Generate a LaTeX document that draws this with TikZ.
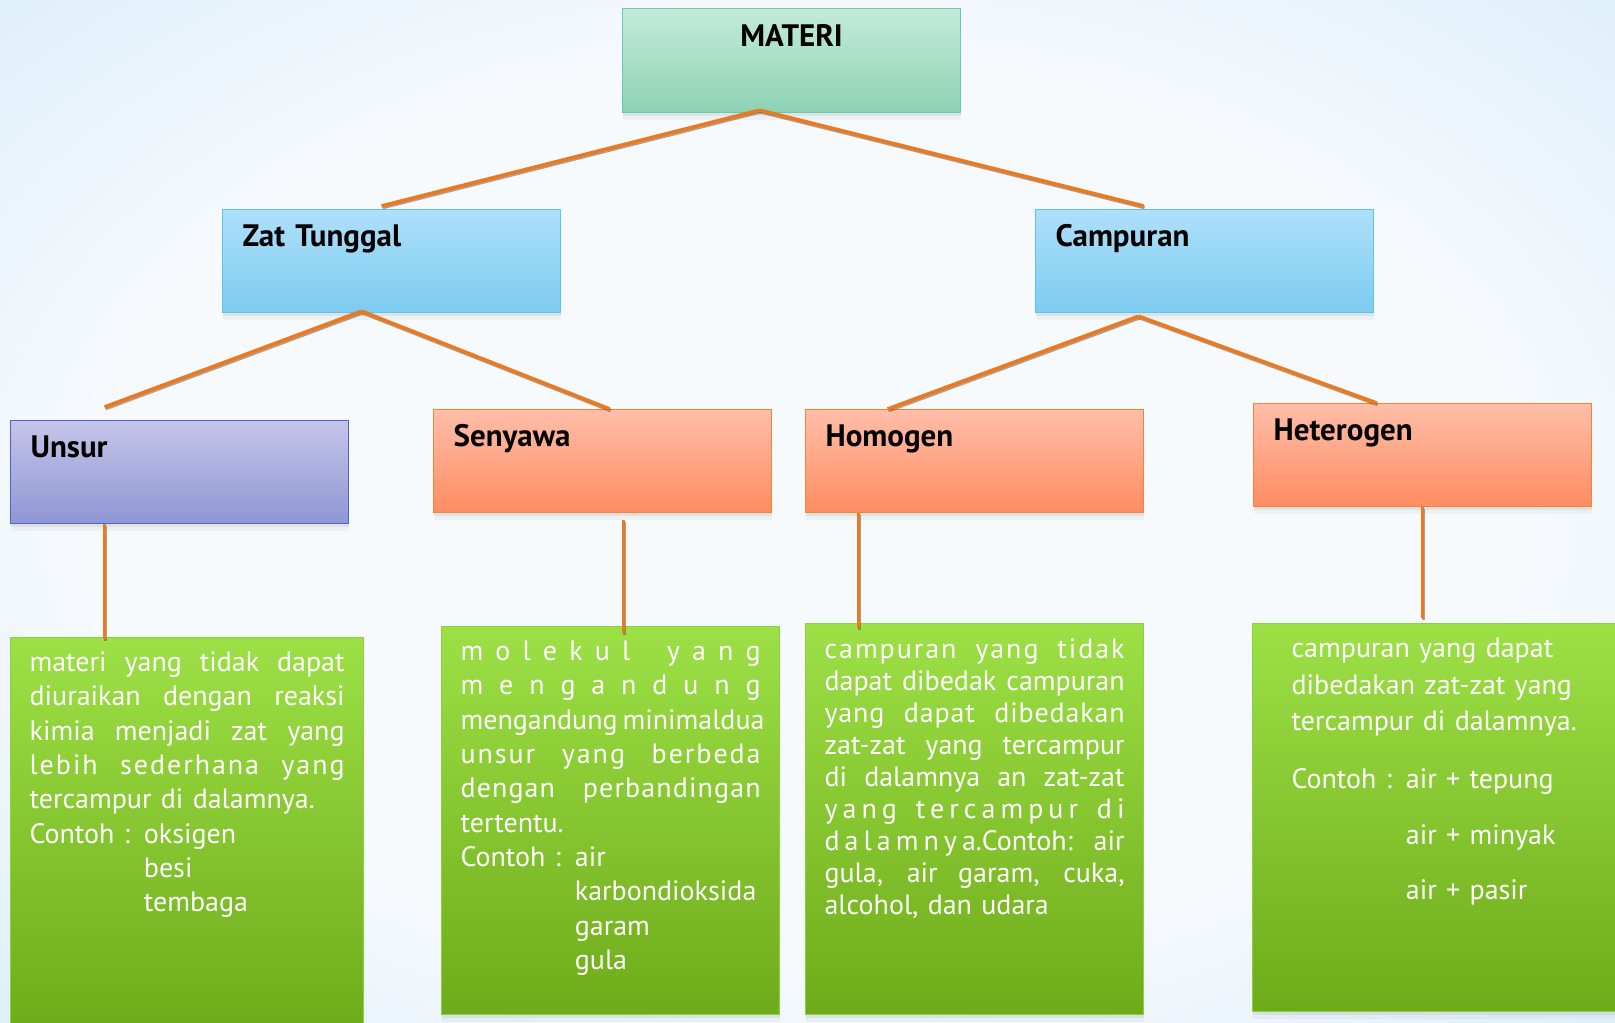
\documentclass[tikz,border=0pt]{standalone}
\usepackage{fontspec}
\setmainfont{PT Sans}
\usetikzlibrary{shadows}
\definecolor{bgmid}{HTML}{F7FAFD}
\definecolor{bgedge}{HTML}{D3EAF9}
\definecolor{bgcorner}{HTML}{B3D9F4}
\definecolor{mintT}{HTML}{C4EBDA}
\definecolor{mintB}{HTML}{8DD2B4}
\definecolor{mintD}{HTML}{66CCAD}
\definecolor{skyT}{HTML}{AEE0FA}
\definecolor{skyB}{HTML}{7DCBF1}
\definecolor{skyD}{HTML}{5CC5EF}
\definecolor{lilacT}{HTML}{C5C5E9}
\definecolor{lilacB}{HTML}{8E96D4}
\definecolor{lilacD}{HTML}{4F63CF}
\definecolor{peachT}{HTML}{FFBEA9}
\definecolor{peachB}{HTML}{FF8C62}
\definecolor{peachD}{HTML}{F5842E}
\definecolor{leafT}{HTML}{9DE046}
\definecolor{leafB}{HTML}{6EAB1A}
\definecolor{leafD}{HTML}{8BD33D}
\definecolor{linkor}{HTML}{EA7A22}
\definecolor{linkdk}{HTML}{7A3E12}
\pgfdeclareradialshading{skybg}{\pgfpoint{0bp}{0bp}}{color(0bp)=(bgmid); color(22bp)=(bgmid); color(42bp)=(bgedge); color(71bp)=(bgcorner)}
\newcommand\fillline[1]{\makebox[\hsize][s]{\spaceskip=0pt\xspaceskip=0pt #1}}
\newcommand\track[1]{{\addfontfeatures{LetterSpace=7}#1}}
\newcommand\ind{\phantom{Contoh : }}
\tikzset{
  soft/.style={drop shadow={shadow xshift=0pt,shadow yshift=-3pt,opacity=.12},
               drop shadow={shadow xshift=0pt,shadow yshift=-7pt,opacity=.07}},
  box/.style={rectangle,anchor=north west,inner xsep=20pt,inner ysep=17pt,text height=20pt,
              text width=298pt,text depth=49pt,align=left,line width=1.2pt,shading=axis,
              font=\fontsize{31}{36}\selectfont\bfseries,soft},
  rootbox/.style={box,top color=mintT,bottom color=mintB,draw=mintD,align=center,text height=21pt},
  groupbox/.style={box,top color=skyT,bottom color=skyB,draw=skyD},
  unsurbox/.style={box,top color=lilacT,bottom color=lilacB,draw=lilacD},
  kindbox/.style={box,top color=peachT,bottom color=peachB,draw=peachD},
  leafbox/.style={rectangle,anchor=north west,inner xsep=19pt,inner ysep=14pt,text height=20pt,
                  text width=300pt,align=left,line width=1.2pt,shading=axis,
                  top color=leafT,bottom color=leafB,draw=leafD,text=white,
                  font=\fontsize{28}{34.3}\selectfont,soft},
  link/.style={draw=linkor,line width=3.6pt,
               preaction={draw=linkdk,line width=3.6pt,opacity=.5,transform canvas={shift={(1pt,-1.5pt)}}}}
}
\begin{document}
\begin{tikzpicture}[x=1pt,y=-1pt]
\useasboundingbox (0,0) rectangle (1615,1023);
\shade[shading=skybg] (0,0) rectangle (1615,1023);
% kotak judul dan cabang
\node[rootbox] (materi) at (622,8) {MATERI};
\node[groupbox] (tunggal) at (222,209) {Zat Tunggal};
\node[groupbox] (campuran) at (1035,209) {Campuran};
\node[unsurbox] (unsur) at (10,420) {Unsur};
\node[kindbox] (senyawa) at (433,409) {Senyawa};
\node[kindbox] (homogen) at (805,409) {Homogen};
\node[kindbox] (heterogen) at (1253,403) {Heterogen};
% kotak keterangan
\node[leafbox,text width=315pt,text depth=345pt] (ketunsur) at (10,637) {%
\fillline{materi yang tidak dapat}\\
\fillline{diuraikan dengan reaksi}\\
\fillline{kimia menjadi zat yang}\\
\fillline{\track{lebih sederhana yang}}\\
tercampur di dalamnya.\\
Contoh : oksigen\\
\ind besi\\
\ind tembaga};
\node[leafbox,text depth=340pt] (ketsenyawa) at (441,626) {%
\fillline{m o l e k u l \ \ y a n g}\\
\fillline{m e n g a n d u n g}\\
\fillline{mengandung minimaldua}\\
\fillline{\track{unsur yang berbeda}}\\
\fillline{{\addfontfeatures{LetterSpace=4}dengan perbandingan}}\\
tertentu.\\
Contoh : air\\
\ind karbondioksida\\
\ind garam\\
\ind gula};
\node[leafbox,inner ysep=15pt,text depth=341pt,font=\fontsize{28}{32}\selectfont] (kethomogen) at (805,623) {%
\fillline{\track{campuran yang tidak}}\\
\fillline{dapat dibedak campuran}\\
\fillline{{\addfontfeatures{LetterSpace=3}yang dapat dibedakan}}\\
\fillline{zat-zat yang tercampur}\\
\fillline{di dalamnya an zat-zat}\\
\fillline{\addfontfeatures{LetterSpace=18}yang tercampur di}\\
\fillline{{\addfontfeatures{LetterSpace=18}dalamnya}.Contoh: air}\\
\fillline{gula, air garam, cuka,}\\
alcohol, dan udara};
\node[leafbox,inner xsep=39pt,text width=320pt,text depth=340pt,font=\fontsize{28}{36.6}\selectfont] (ketheterogen) at (1252,623) {%
campuran yang dapat\\
dibedakan zat-zat yang\\
tercampur di dalamnya.\\[21pt]
Contoh : air + tepung\\[19pt]
\ind air + minyak\\[19pt]
\ind air + pasir};
% garis penghubung
\draw[link] ([xshift=-32pt,yshift=3pt]materi.south) -- ([xshift=-10pt,yshift=3pt]tunggal.north);
\draw[link] ([xshift=-32pt,yshift=3pt]materi.south) -- ([xshift=-61pt,yshift=3pt]campuran.north);
\draw[link] ([xshift=-30pt,yshift=2pt]tunggal.south) -- ([xshift=-75pt,yshift=13pt]unsur.north);
\draw[link] ([xshift=-30pt,yshift=2pt]tunggal.south) -- ([xshift=7pt]senyawa.north);
\draw[link] ([xshift=-66pt,yshift=-3pt]campuran.south) -- ([xshift=-87pt]homogen.north);
\draw[link] ([xshift=-66pt,yshift=-3pt]campuran.south) -- ([xshift=-46pt]heterogen.north);
\draw[link] ([xshift=-75pt]unsur.south) -- ([xshift=-75pt,yshift=-2pt]unsur.south |- ketunsur.north);
\draw[link] ([xshift=21pt,yshift=-7pt]senyawa.south) -- ([xshift=21pt,yshift=-7pt]senyawa.south |- ketsenyawa.north);
\draw[link] ([xshift=-116pt]homogen.south) -- ([xshift=-116pt,yshift=-5pt]homogen.south |- kethomogen.north);
\draw[link] (heterogen.south) -- ([yshift=5pt]heterogen.south |- ketheterogen.north);
\end{tikzpicture}
\end{document}
